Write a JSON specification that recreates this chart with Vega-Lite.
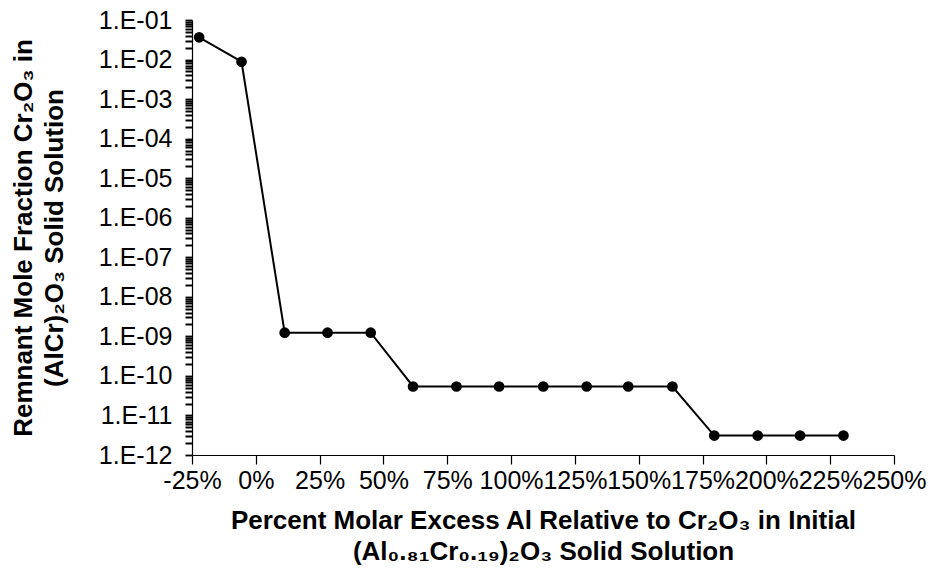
{
  "$schema": "https://vega.github.io/schema/vega-lite/v6.json",
  "autosize": "none",
  "width": 702,
  "height": 435,
  "padding": {"left": 192, "top": 20, "right": 38, "bottom": 114},
  "background": "white",
  "config": {
    "view": {"stroke": null},
    "font": "Liberation Sans",
    "axis": {
      "grid": false,
      "domainColor": "#000000",
      "domainWidth": 1.2,
      "tickColor": "#000000",
      "tickWidth": 1.2,
      "labelColor": "#000000",
      "labelFont": "Liberation Sans",
      "labelFontSize": 25,
      "titleColor": "#000000",
      "titleFont": "Liberation Sans",
      "titleFontSize": 26,
      "titleFontWeight": "bold",
      "titleLineHeight": 31,
      "labelOverlap": false,
      "labelFlush": false,
      "labelBound": false
    }
  },
  "data": {
    "values": [
      {"excess": -22.2, "fraction": 0.0365},
      {"excess": -5.6, "fraction": 0.0088},
      {"excess": 11.3, "fraction": 1.24e-9},
      {"excess": 28.1, "fraction": 1.24e-9},
      {"excess": 45.0, "fraction": 1.24e-9},
      {"excess": 61.6, "fraction": 5.4e-11},
      {"excess": 78.6, "fraction": 5.4e-11},
      {"excess": 95.3, "fraction": 5.4e-11},
      {"excess": 112.6, "fraction": 5.4e-11},
      {"excess": 129.6, "fraction": 5.4e-11},
      {"excess": 145.9, "fraction": 5.4e-11},
      {"excess": 163.2, "fraction": 5.4e-11},
      {"excess": 179.6, "fraction": 3.1e-12},
      {"excess": 196.6, "fraction": 3.1e-12},
      {"excess": 213.2, "fraction": 3.1e-12},
      {"excess": 230.2, "fraction": 3.1e-12}
    ]
  },
  "encoding": {
    "x": {
      "field": "excess",
      "type": "quantitative",
      "scale": {"domain": [-25, 250], "nice": false, "zero": false},
      "axis": {
        "values": [-25, 0, 25, 50, 75, 100, 125, 150, 175, 200, 225, 250],
        "labelExpr": "round(datum.value) + '%'",
        "tickSize": 9,
        "labelPadding": 4,
        "titlePadding": 14,
        "title": ["Percent Molar Excess Al Relative to Cr₂O₃ in Initial", "(Al₀.₈₁Cr₀.₁₉)₂O₃ Solid Solution"]
      }
    }
  },
  "layer": [
    {
      "mark": {"type": "line", "color": "#000000", "strokeWidth": 2},
      "encoding": {
        "y": {
          "field": "fraction",
          "type": "quantitative",
          "scale": {"type": "log", "domain": [1e-12, 0.1], "nice": false},
          "axis": {
            "orient": "left",
            "values": [1e-12, 1e-11, 1e-10, 1e-9, 1e-8, 1e-7, 1e-6, 1e-5, 1e-4, 0.001, 0.01, 0.1],
            "labelExpr": "'1.E-' + (abs(round(log(datum.value)/LN10)) < 10 ? '0' : '') + abs(round(log(datum.value)/LN10))",
            "tickSize": 7,
            "tickWidth": 1.8,
            "labelPadding": 13,
            "titlePadding": 31,
            "title": ["Remnant Mole Fraction Cr₂O₃ in", "(AlCr)₂O₃ Solid Solution"]
          }
        }
      }
    },
    {
      "mark": {"type": "point", "filled": true, "color": "#000000", "opacity": 1, "size": 115, "shape": "circle"},
      "encoding": {
        "y": {
          "field": "fraction",
          "type": "quantitative",
          "axis": {
            "orient": "left",
            "tickCount": 200,
            "values": [
              2e-12, 3e-12, 4e-12, 5e-12, 6e-12, 7e-12, 8e-12, 9e-12,
              2e-11, 3e-11, 4e-11, 5e-11, 6e-11, 7e-11, 8e-11, 9e-11,
              2e-10, 3e-10, 4e-10, 5e-10, 6e-10, 7e-10, 8e-10, 9e-10,
              2e-9, 3e-9, 4e-9, 5e-9, 6e-9, 7e-9, 8e-9, 9e-9,
              2e-8, 3e-8, 4e-8, 5e-8, 6e-8, 7e-8, 8e-8, 9e-8,
              2e-7, 3e-7, 4e-7, 5e-7, 6e-7, 7e-7, 8e-7, 9e-7,
              2e-6, 3e-6, 4e-6, 5e-6, 6e-6, 7e-6, 8e-6, 9e-6,
              2e-5, 3e-5, 4e-5, 5e-5, 6e-5, 7e-5, 8e-5, 9e-5,
              2e-4, 3e-4, 4e-4, 5e-4, 6e-4, 7e-4, 8e-4, 9e-4,
              0.002, 0.003, 0.004, 0.005, 0.006, 0.007, 0.008, 0.009,
              0.02, 0.03, 0.04, 0.05, 0.06, 0.07, 0.08, 0.09
            ],
            "labels": false,
            "domain": false,
            "ticks": true,
            "tickSize": 7,
            "tickWidth": 2,
            "tickColor": "#000000",
            "tickOpacity": 1,
            "title": null
          }
        }
      }
    }
  ],
  "resolve": {"axis": {"y": "independent"}}
}
